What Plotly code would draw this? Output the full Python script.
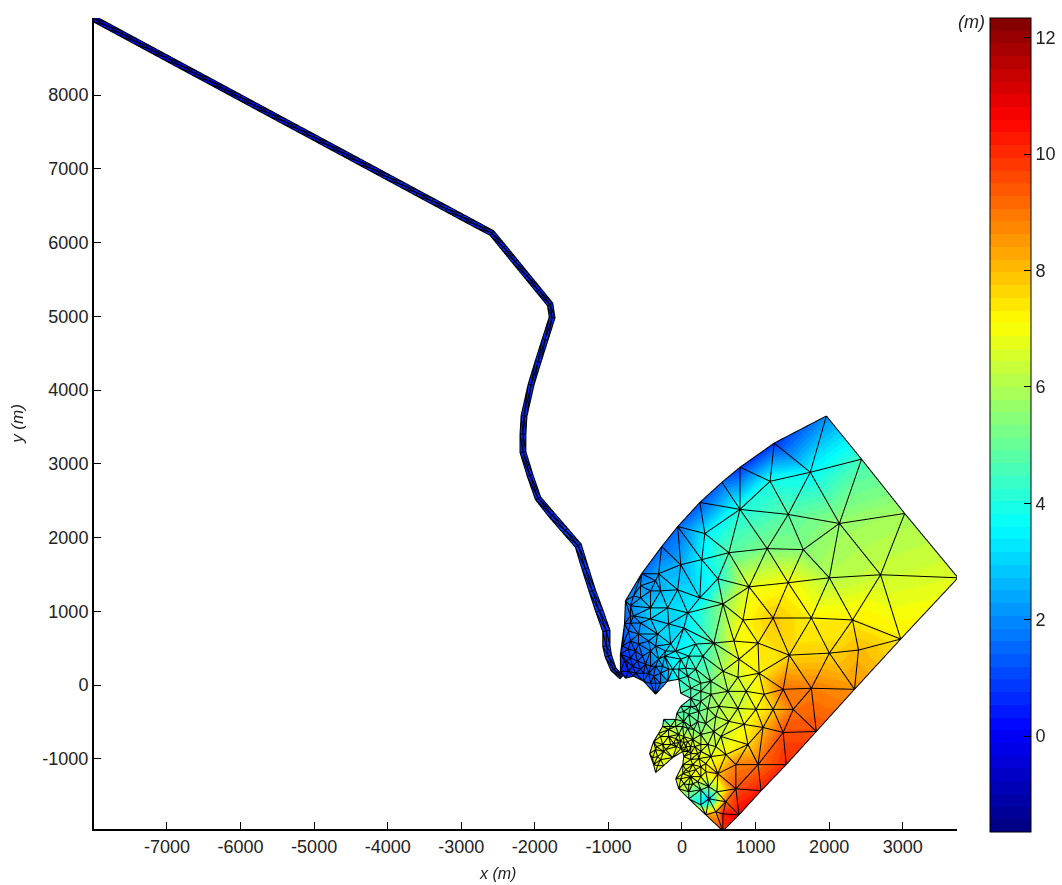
import math
import plotly.graph_objects as go

# ---------- boundary nodes of the bay (x, y in m; z = water level in m)
edge_x = [1943,2419,3003,3724,2949,2324,1807,1400,1060,761,544,313,82,-54,-95,0,14,0,-136,-258,-367,-394,-448,-394,-272,-258,-95,-27,109,-27,-54,-204,-367,-530,-666,-775,-843,-843,-788,-775,-557,-285,-68,231,530,775,1237]
edge_y = [3648,3065,2332,1464,637,-41,-610,-1058,-1410,-1736,-1953,-1736,-1519,-1383,-1248,-1058,-949,-881,-963,-1071,-1166,-1058,-909,-746,-542,-447,-447,-271,-163,-95,95,68,-108,68,136,108,203,434,841,1153,1519,1885,2156,2481,2753,2956,3282]
edge_z = [2.0,4.5,5.8,6.6,7.3,8.5,9.5,10,10.2,10.5,9.9,8.5,4.5,6.5,6.7,6.7,6.7,6.7,6.7,6.7,6.8,6.7,6.7,6.7,6.2,3.5,5.3,4.6,4.6,4.7,4.0,2.7,1.3,1.3,0.8,0.5,0.5,0.8,1.4,2.0,1.5,1.5,1.5,1.2,1.5,0.8,0.8]

# ---------- interior nodes: coarse part of the bay
inner_x = [1726,1182,775,1427,2120,299,1142,1631,625,-27,258,-326,476,1984,2677,897,1427,-68,231,-571,544,-204,-435,68,815,1223,1740,2297,1441,1984,2378,1019,693,421,177,14,-190,-340,-598,-666,-435,-707,761,1033,747,544,1359,1740,1101,856,612,381,177,-27,-163,-326,-544,489,747,992,1223,1495,381,109,245,340,625,829,1359,1087,883,584,1019,720,381,476,720,353,584,544,245,136,177,340,245,421,204,82,68,-54,-190,-272,-340,-163,-27,41,-27,82,109,217,245,0,82,14,-258,136,204,-95,14,109,-82,14,68,-353,-190,-95,109,14,177,245,312,82,-707,-761,-679,-571,-462,-639,-435,-435,-299,-367,-190,-54,-245,68,245,-571,-435,-299,-707,-734]
inner_y = [2888,2766,2387,2319,2197,2061,1858,1844,1803,1641,1709,1519,1451,1464,1505,1342,1397,1302,1193,1193,1112,1058,1058,990,895,922,922,895,420,447,488,583,610,583,570,786,841,705,705,949,909,1085,366,176,122,203,-41,-27,-108,-68,-68,68,231,366,570,366,407,-271,-298,-312,-312,-312,-108,-27,-203,-298,-475,-515,-624,-556,-786,-922,-1058,-1058,-949,-1180,-1383,-1519,-1559,-1722,-1397,-1315,-1125,-786,-651,-610,-475,-380,-570,-651,-583,-786,-949,-786,-746,-814,-841,-881,-990,-976,-786,-1180,-1153,-1315,-881,-719,-909,-705,-678,-814,-814,-759,-746,-814,-678,-542,-542,-475,-271,-1220,-1044,-1424,610,339,271,231,176,475,475,271,176,41,231,231,407,136,41,1356,1288,1288,949,746]
inner_z = [3.6,3.9,4.0,4.8,5.6,3.4,5.3,5.4,4.8,2.5,3.5,2.5,4.0,6.0,6.3,6.7,7.0,3.0,3.3,2.4,5.5,3.1,3.0,3.3,7.0,7.8,7.2,7.3,7.6,7.6,8.0,7.3,6.8,5.0,3.9,3.2,2.9,3.0,2.2,2.1,2.9,1.9,6.8,7.2,6.5,6.0,9.0,8.8,7.5,6.5,6.0,5.2,4.5,3.8,3.2,2.7,1.7,6.0,6.3,7.0,7.8,9.0,5.5,4.6,5.0,5.5,6.5,7.0,9.5,8.0,7.5,7.3,9.0,8.8,6.8,8.0,9.5,2.5,9.0,10.3,4.8,5.8,7.0,6.3,5.5,6.0,5.0,4.8,5.3,6.0,6.4,6.7,6.7,6.7,6.7,6.7,6.7,6.7,6.7,6.7,6.5,6.7,6.8,6.5,6.7,6.2,6.7,6.6,6.6,6.6,6.6,6.6,6.6,6.7,6.7,5.8,5.3,5.0,4.9,6.9,6.9,5.5,1.4,0.9,0.9,1.0,1.2,1.1,2.2,1.5,2.0,1.5,3.0,3.7,3.0,4.4,4.9,2.3,2.2,2.6,1.7,1.7]

# ---------- interior nodes: fine parts near the river mouth and the south lobe
fine_x = [-815,-734,-788,-707,-612,-734,-639,-530,-503,-367,-394,-272,-299,-435,-707,-571,-598,-462,-367,-231,-136,41,-95,82,272,245,14,109,217,-81,-163,0,149,312,448,516,448,-326,-367,-299,-231,-299,-340,-408,-122,-54,27,109,163,245,136,245,41,-27,109,204,82,312,353,462,245,448,-666,-367]
fine_y = [543,502,339,380,339,203,176,176,298,271,136,271,41,41,854,854,570,611,543,475,231,244,475,407,407,-68,-339,-271,-339,-366,-542,-542,-583,-502,-407,-678,-814,-637,-854,-678,-854,-990,-1071,-963,-773,-759,-854,-909,-814,-881,-1058,-1085,-1126,-1248,-1220,-1288,-1329,-1153,-1356,-1424,-1600,-1695,1220,1424]
fine_z = [1.0,1.1,0.8,1.0,1.2,0.7,0.9,1.1,1.4,1.8,1.5,2.3,1.7,1.3,1.6,2.0,1.6,2.1,2.4,3.0,3.4,4.1,3.4,3.9,4.3,5.0,4.7,4.7,5.0,4.9,5.9,5.4,5.4,5.5,5.8,6.3,6.5,6.5,6.7,6.6,6.7,6.7,6.8,6.7,6.7,6.7,6.7,6.7,6.6,6.6,6.8,6.9,6.8,6.7,6.7,6.5,6.0,7.2,5.6,6.0,3.5,8.0,2.0,2.3]

# ---------- river channel stations
river_x = [-7990,-7790,-7590,-7390,-7190,-6990,-6790,-6590,-6390,-6190,-5990,-5790,-5590,-5390,-5190,-4990,-4790,-4590,-4390,-4190,-3990,-3790,-3590,-3390,-3190,-2990,-2790,-2582,-2425,-2267,-2110,-1952,-1794,-1767,-1862,-1957,-2052,-2147,-2161,-2161,-2066,-1957,-1767,-1590,-1413,-1318,-1223,-1128,-1033,-1033,-1006,-938,-829]
river_y = [9020,8913,8805,8698,8590,8483,8375,8268,8161,8053,7946,7838,7731,7623,7516,7409,7301,7194,7086,6979,6871,6764,6656,6549,6442,6334,6227,6116,5925,5732,5540,5347,5153,4977,4678,4380,4068,3648,3404,3159,2848,2536,2305,2102,1898,1587,1288,1017,746,542,407,230,122]
river_half = [40]*42 + [45,45,45,45,45,50,50,50,45,38,30]
river_z = [0.3]*10 + [0.4]*10 + [0.6]*13 + [0.7]*10 + [0.9]*10

# ---------- axes / colour scale
x_range = [-7992, 3738]
y_range = [-1952, 9044]
x_ticks = list(range(-7000, 4000, 1000))
x_labels = [str(v) for v in x_ticks]
y_ticks = list(range(-1000, 9000, 1000))
y_labels = [str(v) for v in y_ticks]
bar_ticks = [0, 2, 4, 6, 8, 10, 12]
z_min, z_max = -1.65, 12.34
ZOOM = 2.0094


def jet(t):
    r = min(max(min(4*t-1.5, -4*t+4.5), 0), 1)
    g = min(max(min(4*t-0.5, -4*t+3.5), 0), 1)
    b = min(max(min(4*t+0.5, -4*t+2.5), 0), 1)
    return f"rgb({round(r*255)},{round(g*255)},{round(b*255)})"


scale = []
for k in range(64):
    c = jet((k+0.5)/64)
    scale += [[k/64, c], [(k+1)/64, c]]


def delaunay(px, py):
    n = len(px)
    pts = list(zip(map(float, px), map(float, py)))
    pts += [(-1e6, -1e6), (1e6, -1e6), (0.0, 1e6)]
    tris = [(n, n+1, n+2)]

    def in_circle(t, p):
        (ax, ay), (bx, by), (cx, cy) = pts[t[0]], pts[t[1]], pts[t[2]]
        d = 2*(ax*(by-cy)+bx*(cy-ay)+cx*(ay-by))
        if abs(d) < 1e-9:
            return False
        ux = ((ax*ax+ay*ay)*(by-cy)+(bx*bx+by*by)*(cy-ay)+(cx*cx+cy*cy)*(ay-by))/d
        uy = ((ax*ax+ay*ay)*(cx-bx)+(bx*bx+by*by)*(ax-cx)+(cx*cx+cy*cy)*(bx-ax))/d
        return (p[0]-ux)**2+(p[1]-uy)**2 < (ax-ux)**2+(ay-uy)**2

    for i in range(n):
        bad = [t for t in tris if in_circle(t, pts[i])]
        count = {}
        for t in bad:
            for e in ((t[0], t[1]), (t[1], t[2]), (t[2], t[0])):
                key = tuple(sorted(e))
                count[key] = count.get(key, 0)+1
        tris = [t for t in tris if t not in bad]
        for (a, b), c in count.items():
            if c == 1:
                tris.append((a, b, i))
    return [t for t in tris if max(t) < n]


def inside(x, y, polyx, polyy):
    hit = False
    m = len(polyx)
    for a in range(m):
        b = (a+1) % m
        if (polyy[a] > y) != (polyy[b] > y):
            if x < polyx[a]+(y-polyy[a])*(polyx[b]-polyx[a])/(polyy[b]-polyy[a]):
                hit = not hit
    return hit


# bay mesh
xs = edge_x + inner_x + fine_x
ys = edge_y + inner_y + fine_y
zs = edge_z + inner_z + fine_z
tri = []
for t in delaunay(xs, ys):
    cx = sum(xs[v] for v in t)/3
    cy = sum(ys[v] for v in t)/3
    if inside(cx, cy, edge_x, edge_y):
        tri.append(t)

# river strip: left bank, centre line and right bank nodes at each station
n0 = len(xs)
xs, ys, zs = list(xs), list(ys), list(zs)
ns = len(river_x)
for s in range(ns):
    a = max(s-1, 0)
    b = min(s+1, ns-1)
    dx, dy = river_x[b]-river_x[a], river_y[b]-river_y[a]
    L = math.hypot(dx, dy)
    nx, ny = -dy/L, dx/L
    h = river_half[s]
    xs += [river_x[s]+nx*h, river_x[s], river_x[s]-nx*h]
    ys += [river_y[s]+ny*h, river_y[s], river_y[s]-ny*h]
    zs += [river_z[s]]*3
for s in range(ns-1):
    a = n0+3*s
    tri += [(a, a+1, a+3), (a+1, a+4, a+3), (a+1, a+2, a+4), (a+2, a+5, a+4)]

# mesh edges
edges = set()
for t in tri:
    for e in ((t[0], t[1]), (t[1], t[2]), (t[2], t[0])):
        edges.add(tuple(sorted(e)))
lx, ly, lz = [], [], []
for a, b in edges:
    lx += [xs[a], xs[b], None]
    ly += [ys[a], ys[b], None]
    lz += [0.2, 0.2, None]

fig = go.Figure()
fig.add_trace(go.Scatter(x=x_range, y=y_range, mode="markers", marker=dict(opacity=0),
                         hoverinfo="skip", showlegend=False))
fig.add_trace(go.Mesh3d(
    x=xs, y=ys, z=[0]*len(xs),
    i=[t[0] for t in tri], j=[t[1] for t in tri], k=[t[2] for t in tri],
    intensity=zs, colorscale=scale, cmin=z_min, cmax=z_max,
    lighting=dict(ambient=1, diffuse=0, specular=0, fresnel=0, roughness=1),
    hoverinfo="skip",
    colorbar=dict(x=(990-94)/863, xanchor="left", xpad=0, y=1, yanchor="top", ypad=0,
                  len=814, lenmode="pixels", thickness=41, thicknessmode="pixels",
                  outlinecolor="black", outlinewidth=1,
                  tickvals=bar_ticks, ticks="inside", ticklen=7, tickcolor="black",
                  tickfont=dict(family="Liberation Sans", size=18, color="#222")),
))
fig.add_trace(go.Scatter3d(x=lx, y=ly, z=lz, mode="lines",
                           line=dict(color="black", width=2),
                           hoverinfo="skip", showlegend=False))

hidden = dict(visible=False, showgrid=False, zeroline=False, showticklabels=False, showspikes=False)
axfont = dict(family="Liberation Sans", size=18, color="#222")
titlefont = dict(family="Liberation Sans", size=16, color="#222")
fig.update_layout(
    width=1062, height=885, autosize=False,
    paper_bgcolor="white", plot_bgcolor="white",
    margin=dict(l=94, r=105, t=18, b=56, pad=0, autoexpand=False),
    showlegend=False,
    xaxis=dict(range=x_range, tickvals=x_ticks, ticktext=x_labels, ticks="inside", ticklen=7, tickwidth=1,
               tickcolor="black", linecolor="black", linewidth=2, showgrid=False, zeroline=False,
               tickfont=axfont),
    yaxis=dict(range=y_range, tickvals=y_ticks, ticktext=y_labels, ticks="inside", ticklen=7, tickwidth=1,
               tickcolor="black", linecolor="black", linewidth=2, showgrid=False, zeroline=False,
               tickfont=axfont, title=dict(text="<i>y (m)</i>", standoff=14,
               font=dict(family="Liberation Sans", size=17, color="#222"))),
    scene=dict(
        domain=dict(x=[0, 1], y=[0, 1]),
        bgcolor="rgba(0,0,0,0)",
        xaxis=dict(range=x_range, **hidden),
        yaxis=dict(range=y_range, **hidden),
        zaxis=dict(range=[-1, 1], **hidden),
        aspectmode="manual",
        aspectratio=dict(x=ZOOM*863/811, y=ZOOM, z=0.05),
        camera=dict(eye=dict(x=0, y=0, z=1), up=dict(x=0, y=1, z=0),
                    center=dict(x=0, y=0, z=0), projection=dict(type="orthographic")),
        dragmode=False,
    ),
    annotations=[
        dict(text="<i>(m)</i>", x=(971-94)/863, y=(829-22)/811, xref="x domain", yref="y domain",
             xanchor="center", yanchor="middle", showarrow=False,
             font=dict(family="Liberation Sans", size=18, color="#222")),
        dict(text="<i>x (m)</i>", x=(497-94)/863, y=(829-873)/811, xref="x domain", yref="y domain",
             xanchor="center", yanchor="middle", showarrow=False, font=titlefont),
    ],
)
fig.write_html("out.html", config=dict(displayModeBar=False),
               post_script="document.body.style.margin='0';document.body.style.overflow='hidden';")
